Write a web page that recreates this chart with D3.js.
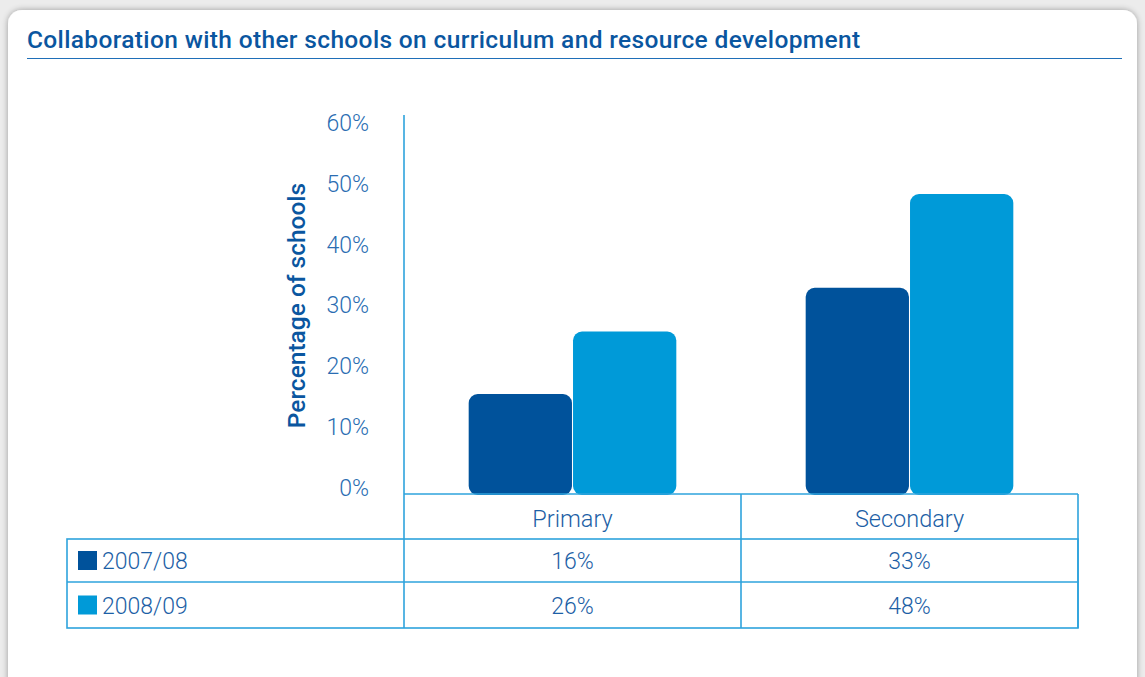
<!DOCTYPE html>
<html><head><meta charset="utf-8">
<script src="https://cdn.jsdelivr.net/npm/d3@7"></script>
<style>
html,body{margin:0;padding:0;background:#ececec;}
svg{display:block;}
</style></head>
<body>
<svg id="chart" width="1145" height="677"></svg>
<script>
const categories = ["Primary", "Secondary"];
const seriesNames = ["2007/08", "2008/09"];
const values2007 = [16, 33];
const values2008 = [26, 48];
const yTicks = [0, 10, 20, 30, 40, 50, 60];
const title = "Collaboration with other schools on curriculum and resource development";
const yTitle = "Percentage of schools";

const colors = ["#00529b", "#009ad8"];
const lineColor = "#2ea3dc";
const textColor = "#1d5fa6";
const series = [values2007, values2008];

const svg = d3.select("#chart");
const defs = svg.append("defs");
const f = defs.append("filter").attr("id","sh").attr("x","-5%").attr("y","-5%").attr("width","110%").attr("height","110%");
f.append("feGaussianBlur").attr("in","SourceAlpha").attr("stdDeviation",3);
f.append("feOffset").attr("dx",0).attr("dy",0).attr("result","b");
f.append("feComponentTransfer").append("feFuncA").attr("type","linear").attr("slope",0.35);
const m = f.append("feMerge"); m.append("feMergeNode"); m.append("feMergeNode").attr("in","SourceGraphic");

svg.append("rect").attr("x",8).attr("y",10).attr("width",1129).attr("height",700).attr("rx",14)
  .attr("fill","#fff").attr("filter","url(#sh)");

svg.append("text").attr("x",27).attr("y",48).text(title)
  .attr("font-family","Roboto").attr("font-weight",500).attr("font-size",24.5)
  .attr("letter-spacing",0.35).attr("fill","#0a56a0");
svg.append("line").attr("x1",27).attr("x2",1122).attr("y1",58.5).attr("y2",58.5).attr("stroke","#1f6fb8").attr("stroke-width",1.2);

const x = d3.scaleBand().domain(categories).range([404, 1078]);
const xs = d3.scaleBand().domain(seriesNames).range([0, x.bandwidth()]).paddingOuter(0.62).paddingInner(0.01);
const y = d3.scaleLinear().domain([0, 60]).range([494, 119]);
const yLab = d3.scaleLinear().domain([0, 60]).range([488, 123]);

// bars
series.forEach((vals, si) => {
  svg.append("g").selectAll("rect").data(vals).join("rect")
    .attr("x", (d,i) => x(categories[i]) + xs(seriesNames[si]))
    .attr("width", xs.bandwidth())
    .attr("y", d => y(d))
    .attr("height", d => y(0) - y(d) + 1)
    .attr("rx", 9)
    .attr("fill", colors[si]);
});

// y tick labels
const ax = d3.axisLeft(yLab).tickValues(yTicks).tickFormat(d => d + "%").tickSize(0).tickPadding(0);
const gy = svg.append("g").attr("transform","translate(369,0)").call(ax);
gy.select(".domain").remove();
gy.selectAll("text").attr("font-family","Roboto").attr("font-weight",300).attr("font-size",23).attr("fill","#2a6db2");

// y title
svg.append("text").attr("transform","translate(305,305.5) rotate(-90)").attr("text-anchor","middle")
  .text(yTitle).attr("font-family","Roboto").attr("font-weight",500).attr("font-size",24.5).attr("fill","#0a56a0");

// axis line & table
const tableTop = 539, rowH = [43, 46];
const rowY = [tableTop, tableTop + rowH[0]];
const tableBottom = tableTop + rowH[0] + rowH[1];
const L = 67, R = 1078;
const g = svg.append("g").attr("stroke", lineColor).attr("stroke-width",1.6).attr("fill","none");
g.append("line").attr("x1",404).attr("x2",404).attr("y1",115).attr("y2",tableBottom);
g.append("line").attr("x1",404).attr("x2",R).attr("y1",y(0)).attr("y2",y(0));
g.append("line").attr("x1",R).attr("x2",R).attr("y1",y(0)).attr("y2",tableBottom);
g.append("line").attr("x1",x("Secondary")).attr("x2",x("Secondary")).attr("y1",y(0)).attr("y2",tableBottom);
g.append("rect").attr("x",L).attr("y",tableTop).attr("width",R-L).attr("height",tableBottom-tableTop);
g.append("line").attr("x1",L).attr("x2",R).attr("y1",rowY[1]).attr("y2",rowY[1]);

// header labels
svg.append("g").selectAll("text").data(categories).join("text")
  .attr("x", d => x(d) + x.bandwidth()/2).attr("y", 527).attr("text-anchor","middle")
  .text(d => d).attr("font-family","Roboto").attr("font-weight",300).attr("font-size",23.5).attr("fill",textColor);

// rows
series.forEach((vals, si) => {
  const cy = rowY[si] + rowH[si]/2;
  svg.append("rect").attr("x",78).attr("y",cy-9.5).attr("width",19).attr("height",19).attr("fill",colors[si]);
  svg.append("text").attr("x",102).attr("y",cy+8.5).text(seriesNames[si])
    .attr("font-family","Roboto").attr("font-weight",300).attr("font-size",23).attr("fill",textColor);
  svg.append("g").selectAll("text").data(vals).join("text")
    .attr("x",(d,i) => x(categories[i]) + x.bandwidth()/2).attr("y", cy+8.5).attr("text-anchor","middle")
    .text(d => d + "%").attr("font-family","Roboto").attr("font-weight",300).attr("font-size",23).attr("fill",textColor);
});
</script>
</body></html>
